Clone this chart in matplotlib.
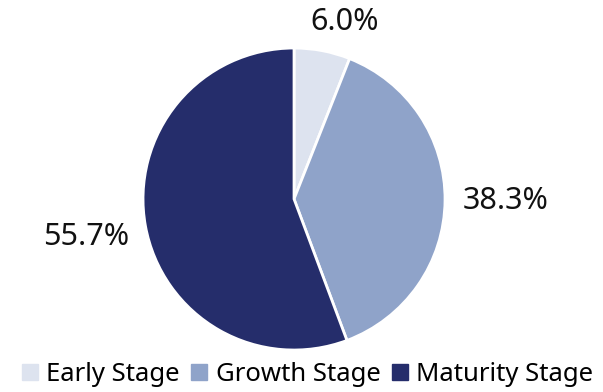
import numpy as np
import matplotlib.pyplot as plt
from matplotlib.lines import Line2D

# share of companies by stage
stages = ['Early Stage', 'Growth Stage', 'Maturity Stage']
shares = [6.0, 38.3, 55.7]
colors = ['#dde3ef', '#8fa3c9', '#252d6b']

plt.rcParams['font.family'] = ['Noto Sans', 'DejaVu Sans']

fig = plt.figure(figsize=(6.03, 3.92), dpi=100)
ax = fig.add_axes([0, 0, 1, 1])

wedges, texts, autotexts = ax.pie(shares, colors=colors, startangle=90, counterclock=False,
                                  radius=1, autopct='%.1f%%', pctdistance=1.4,
                                  wedgeprops=dict(edgecolor='white', linewidth=2),
                                  textprops=dict(fontsize=22, color='#111111'))

# small slice label sits closer in, nudged off the top edge
r, ang = 1.22, np.deg2rad(73.9)
autotexts[0].set_position((r*np.cos(ang), r*np.sin(ang)))

# axis limits chosen so the pie fills the frame
ax.set_xlim(-1.947, 2.046)
ax.set_ylim(-1.278, 1.318)
ax.set_aspect('equal')
ax.axis('off')

handles = [Line2D([], [], marker='s', linestyle='none', markersize=11,
                  markerfacecolor=c, markeredgecolor=c) for c in colors]
fig.legend(handles, stages, loc='lower center', ncol=3, frameon=False,
           fontsize=18.5, handletextpad=0.25, columnspacing=0.35,
           bbox_to_anchor=(0.508, -0.045), handlelength=0.8)

fig.savefig('out.png', dpi=100)
